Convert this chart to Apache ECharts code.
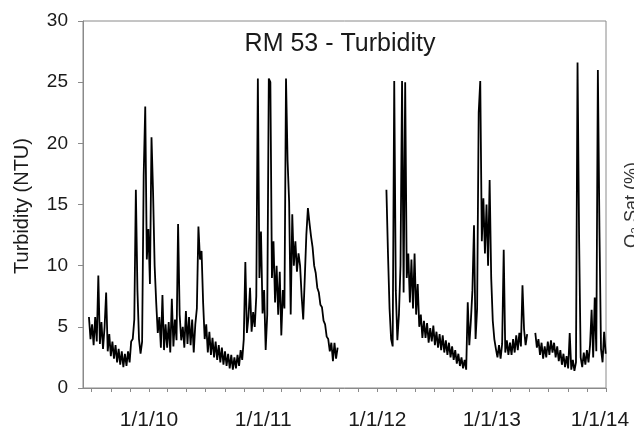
<!DOCTYPE html>
<html>
<head>
<meta charset="utf-8">
<script src="https://cdn.jsdelivr.net/npm/echarts@6/dist/echarts.min.js"></script>
<style>
  html, body { margin: 0; padding: 0; background: #fff; }
  #chart { width: 634px; height: 429px; }
</style>
</head>
<body>
<div id="chart"></div>
<script>
// ---- data (turbidity, NTU; one reading every 5 days in each segment) ----
const segAStart = [2009, 5, 23];   // 2009-06-23
const turbA = [
  5.8, 4.0, 5.2, 3.5, 5.8,   3.8, 9.2, 3.6, 5.4, 3.2,
  5.0, 7.8, 3.0, 4.4, 2.6,   3.8, 2.4, 3.5, 2.1, 3.2,
  1.9, 3.0, 1.7, 2.8, 1.8,   3.0, 2.1, 3.8, 4.0, 5.6,
  16.2, 8.0, 4.0, 2.8, 3.8,  17.4, 23.0, 10.5, 13.0, 8.5,
  20.5, 16.0, 10.0, 7.0, 4.5, 5.8, 3.3, 7.6, 3.1, 5.2,
  3.3, 5.4, 2.9, 7.3, 3.4,   5.6, 3.9, 13.4, 6.0, 3.9,
  5.0, 3.3, 6.3, 3.6, 5.8,   3.5, 5.6, 2.9, 5.2, 6.5,
  13.2, 10.5, 11.2, 7.0, 4.0, 5.2, 2.9, 4.6, 2.7, 4.1,
  2.5, 3.8, 2.3, 3.5, 2.1,   3.3, 1.9, 3.0, 1.8, 2.8,
  1.6, 2.7, 1.5, 2.5, 1.6,   2.7, 1.8, 3.1, 2.3, 4.0,
  10.3, 4.5, 5.8, 8.2, 4.6,  6.2, 5.0, 7.5, 25.3, 9.0,
  12.8, 6.1, 8.0, 3.1, 6.0,  25.3, 25.0, 9.0, 12.0, 7.0,
  10.0, 6.0, 9.5, 4.3, 8.0,  6.5, 25.3, 18.6, 15.2, 6.0,
  14.2, 10.0, 12.0, 9.5, 11.0, 10.0, 7.5, 5.6, 9.0, 12.5,
  14.7, 13.5, 12.4, 11.5, 10.0, 9.4, 8.2, 7.8, 6.8, 6.6,
  5.5, 5.2, 4.2, 4.0, 3.0,   3.7, 2.2, 3.7, 2.4, 3.3
];
const segBStart = [2012, 0, 30];   // 2012-01-30
const turbB = [
  16.2, 11.0, 6.5, 4.0, 3.4, 25.1, 8.0, 3.9, 6.0, 10.0,
  25.1, 7.8, 25.0, 9.0, 11.0, 7.0, 10.5, 6.5, 11.0, 6.0,
  8.5, 5.0, 6.0, 4.1, 5.5,   4.1, 5.3, 3.7, 4.9, 3.8,
  5.1, 3.5, 4.6, 3.3, 4.4,   3.1, 4.3, 2.9, 3.9, 2.7,
  3.7, 2.5, 3.4, 2.3, 3.1,   2.0, 2.8, 1.8, 2.5, 1.6,
  2.3, 1.5, 7.0, 3.5, 5.5,   8.0, 13.3, 4.0, 6.5, 22.5,
  25.1, 12.0, 15.5, 11.0, 15.0, 10.0, 17.0, 9.0, 5.5, 4.0,
  3.2, 2.5, 3.5, 2.4, 3.6,   11.3, 2.9, 3.9, 2.7, 3.7,
  2.7, 4.0, 2.9, 4.3, 3.1,   4.5, 3.4, 8.4, 4.8, 3.5,
  4.4
];
const segCStart = [2013, 4, 20];   // 2013-05-20
const turbC = [
  4.5, 3.3, 4.0, 2.7, 3.7,   2.4, 3.4, 2.5, 3.8, 2.7,
  3.9, 2.9, 3.7, 2.5, 3.4,   2.2, 3.1, 1.9, 2.8, 1.7,
  2.6, 1.6, 4.5, 1.5, 2.3,   1.4, 2.1, 26.6, 12.3, 2.5,
  1.7, 2.9, 1.9, 3.1, 2.1,   3.5, 6.4, 2.5, 7.4, 3.0,
  26.0, 13.0, 3.2, 2.1, 4.6, 2.8
];
const stepDays = 5;

const xTickLabels = ['1/1/10', '1/1/11', '1/1/12', '1/1/13', '1/1/14'];
const xTickYears = [2010, 2011, 2012, 2013, 2014];
const yTicks = [0, 5, 10, 15, 20, 25, 30];

// ---- build series data ----
function seg(start, vals) {
  return vals.map((v, i) => [new Date(start[0], start[1], start[2] + i * stepDays).getTime(), v]);
}
const data = [].concat(
  seg(segAStart, turbA),
  [[new Date(2011, 10, 1).getTime(), '-']],
  seg(segBStart, turbB),
  [[new Date(2013, 4, 8).getTime(), '-']],
  seg(segCStart, turbC)
);

const xMin = new Date(2009, 5, 4).getTime();
const xMax = new Date(2014, 0, 1).getTime();
const majorTs = xTickYears.map(y => new Date(y, 0, 1).getTime());
const minorTs = [];
for (let y = 2009; y <= 2014; y++) {
  for (let m = 0; m < 12; m += 2) {
    const t = new Date(y, m, 1).getTime();
    if (t >= xMin && t <= xMax) minorTs.push(t);
  }
}

const FONT = '"Liberation Sans", Arial, sans-serif';
const chart = echarts.init(document.getElementById('chart'), null, { renderer: 'canvas' });
chart.setOption({
  animation: false,
  backgroundColor: '#fff',
  grid: {
    left: 83, right: 28, top: 21, bottom: 41,
    outerBoundsMode: 'none',
    containLabel: false,
    show: true, borderColor: '#8a8a8a', borderWidth: 1, backgroundColor: 'transparent'
  },
  xAxis: {
    type: 'value',
    min: xMin, max: xMax,
    scale: true,
    axisLine: { show: true, lineStyle: { color: '#8a8a8a', width: 1 } },
    axisTick: { show: true, inside: false, length: 4, customValues: minorTs,
                lineStyle: { color: '#8a8a8a', width: 1 } },
    axisLabel: {
      customValues: majorTs,
      margin: 22,
      fontFamily: FONT, fontSize: 21, color: '#1a1a1a',
      formatter: function (v) {
        const idx = xTickYears.indexOf(new Date(v + 43200000).getFullYear());
        if (idx < 0) return '';
        return idx === xTickLabels.length - 1 ? '{last|' + xTickLabels[idx] + '}' : xTickLabels[idx];
      },
      rich: { last: { fontFamily: FONT, fontSize: 21, color: '#1a1a1a', padding: [0, 12, 0, 0] } }
    },
    splitLine: { show: false }
  },
  yAxis: {
    type: 'value',
    min: yTicks[0], max: yTicks[yTicks.length - 1], interval: 5,
    axisLine: { show: true, lineStyle: { color: '#8a8a8a', width: 1 } },
    axisTick: { show: true, inside: false, length: 5, lineStyle: { color: '#8a8a8a', width: 1 } },
    axisLabel: { margin: 15, fontFamily: FONT, fontSize: 19, color: '#1a1a1a' },
    splitLine: { show: false }
  },
  series: [{
    type: 'line',
    data: data,
    showSymbol: false,
    symbol: 'none',
    connectNulls: false,
    lineStyle: { color: '#000', width: 1.8, join: 'bevel' },
    z: 3
  }],
  graphic: [
    { type: 'text', x: 340, y: 44, z: 10,
      style: { text: 'RM 53 - Turbidity', font: '25px ' + FONT, fill: '#1a1a1a',
               textAlign: 'center', textVerticalAlign: 'middle' } },
    { type: 'text', x: 22, y: 206, rotation: Math.PI / 2, z: 10,
      style: { text: 'Turbidity (NTU)', font: '20px ' + FONT, fill: '#1a1a1a',
               textAlign: 'center', textVerticalAlign: 'middle' } },
    { type: 'text', x: 632, y: 205, rotation: Math.PI / 2, z: 10,
      style: { text: 'O\u2082 Sat (%)', font: '18px ' + FONT, fill: '#333',
               textAlign: 'center', textVerticalAlign: 'middle' } }
  ]
});
</script>
</body>
</html>
